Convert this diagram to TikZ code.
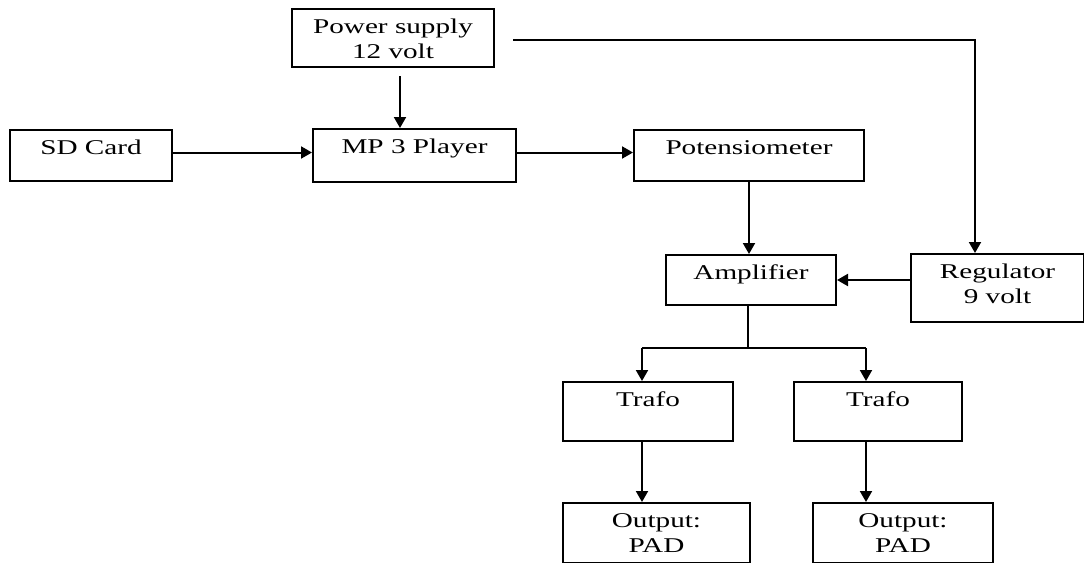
\documentclass[tikz,border=0pt]{standalone}
\usepackage{fontspec}
\setmainfont[FakeStretch=1.39]{Liberation Serif}
\usetikzlibrary{arrows.meta,positioning,calc}

\begin{document}
\begin{tikzpicture}[x=0.5pt,y=-0.5pt,
                     block/.style 2 args={
                                % The shape:
                                rectangle,anchor=north west,inner sep=0pt,
                                minimum width=#1,text height=12pt,text depth=#2,
                                % The rest
                                draw=black,line width=1pt,align=center,
                                font=\fontsize{10.5}{12.5}\selectfont},
                     twolines/.style={text height=24.5pt},
                     link/.style={line width=1pt,-{Triangle[length=5.5pt,width=6pt]}}]
 \useasboundingbox (0,0) rectangle (1084,563);
 \node (ps)     [block={101pt}{4.5pt},twolines]   at (291,8)   {Power supply\\12 volt};
 \node (sd)     [block={81pt}{13.5pt}]  at (9,129)   {SD Card};
 \node (mp3)    [block={101.5pt}{14.5pt}] at (312,128) {MP 3 Player};
 \node (pot)    [block={115pt}{13.5pt}] at (633,129) {Potensiometer};
 \node (amp)    [block={85pt}{13pt}]    at (665,254) {Amplifier};
 \node (reg)    [block={86.5pt}{9.5pt},twolines]  at (910,253) {Regulator\\9 volt};
 \node (trafoL) [block={85pt}{17.5pt}]  at (562,381) {Trafo};
 \node (trafoR) [block={84pt}{17.5pt}]  at (793,381) {Trafo};
 \node (outL)   [block={93.5pt}{5.5pt},twolines]  at (562,502) {Output:\\PAD};
 \node (outR)   [block={90pt}{5.5pt},twolines]    at (812,502) {Output:\\PAD};

 \coordinate (psdown)  at (400,76);
 \coordinate (psright) at (513,40);
 \coordinate (bend)    at (975,40);
 \coordinate (split)   at (748,348);
 \coordinate (jl)      at (642,348);
 \coordinate (jr)      at (866,348);

 \draw [link] (psdown) -- (psdown |- mp3.north);
 \draw [link] ([yshift=1.5pt]sd.east) -- ([yshift=1.5pt]mp3.west);
 \draw [link] ([yshift=1.5pt]mp3.east) -- ([yshift=1.5pt]pot.west);
 \draw [link] (psright) -- (bend) -- (bend |- reg.north);
 \draw [link] (pot.south) -- (pot.south |- amp.north);
 \draw [link] (amp.east -| reg.west) -- (amp.east);
 \draw [line width=1pt] (amp.south -| split) -- (split) (jl) -- (jr);
 \draw [link] (jl) -- (jl |- trafoL.north);
 \draw [link] (jr) -- (jr |- trafoR.north);
 \draw [link] (jl |- trafoL.south) -- (jl |- outL.north);
 \draw [link] (jr |- trafoR.south) -- (jr |- outR.north);
\end{tikzpicture}
\end{document}
